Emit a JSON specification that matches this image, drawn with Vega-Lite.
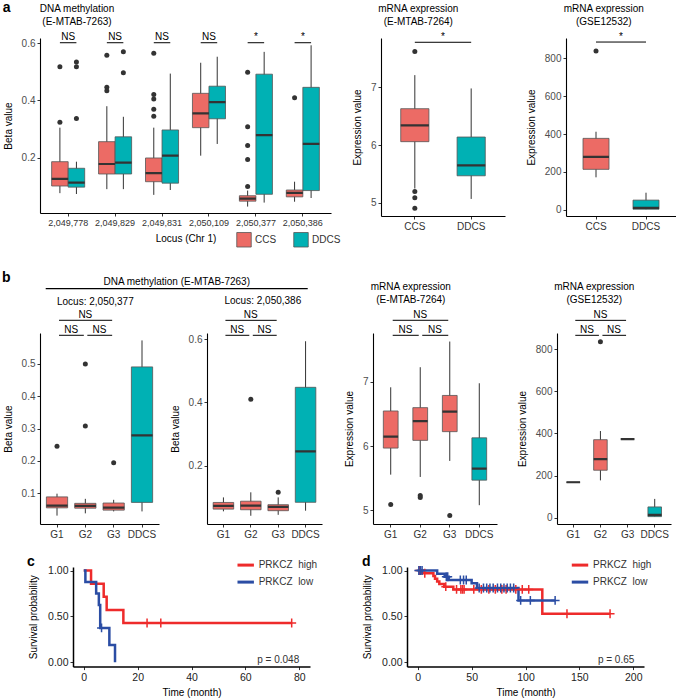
{
  "$schema": "https://vega.github.io/schema/vega-lite/v6.json",
  "padding": {"left": 2, "top": 0, "right": 0, "bottom": 0},
  "autosize": {"type": "pad"},
  "background": "white",
  "config": {
    "font": "Liberation Sans",
    "view": {"stroke": null},
    "axis": {"grid": false, "domainColor": "#000", "domainWidth": 1.1, "tickColor": "#333", "tickSize": 3, "tickWidth": 1, "labelFontSize": 10, "labelColor": "#4d4d4d", "titleFontSize": 10, "titleFontWeight": "normal", "titleColor": "#000", "labelPadding": 2},
    "title": {"fontWeight": "normal", "fontSize": 10, "color": "#000", "font": "Liberation Sans", "frame": "group"},
    "legend": {"labelFont": "Liberation Sans", "padding": 0}
  },
  "datasets": {
    "a1box": [
      {"locus": "2,049,778", "group": "CCS", "lo": 0.076, "q1": 0.101, "med": 0.126, "q3": 0.186, "hi": 0.305},
      {"locus": "2,049,778", "group": "DDCS", "lo": 0.073, "q1": 0.097, "med": 0.113, "q3": 0.163, "hi": 0.186},
      {"locus": "2,049,829", "group": "CCS", "lo": 0.09, "q1": 0.143, "med": 0.178, "q3": 0.256, "hi": 0.38},
      {"locus": "2,049,829", "group": "DDCS", "lo": 0.09, "q1": 0.143, "med": 0.183, "q3": 0.273, "hi": 0.343},
      {"locus": "2,049,831", "group": "CCS", "lo": 0.07, "q1": 0.116, "med": 0.146, "q3": 0.199, "hi": 0.305},
      {"locus": "2,049,831", "group": "DDCS", "lo": 0.087, "q1": 0.111, "med": 0.207, "q3": 0.297, "hi": 0.494},
      {"locus": "2,050,109", "group": "CCS", "lo": 0.207, "q1": 0.305, "med": 0.355, "q3": 0.425, "hi": 0.532},
      {"locus": "2,050,109", "group": "DDCS", "lo": 0.248, "q1": 0.336, "med": 0.394, "q3": 0.45, "hi": 0.553},
      {"locus": "2,050,377", "group": "CCS", "lo": 0.029, "q1": 0.048, "med": 0.057, "q3": 0.067, "hi": 0.085},
      {"locus": "2,050,377", "group": "DDCS", "lo": 0.043, "q1": 0.072, "med": 0.279, "q3": 0.492, "hi": 0.57},
      {"locus": "2,050,386", "group": "CCS", "lo": 0.046, "q1": 0.063, "med": 0.077, "q3": 0.087, "hi": 0.116},
      {"locus": "2,050,386", "group": "DDCS", "lo": 0.059, "q1": 0.085, "med": 0.248, "q3": 0.446, "hi": 0.593}
    ],
    "a1out": [
      {"locus": "2,049,778", "group": "CCS", "v": 0.324},
      {"locus": "2,049,778", "group": "CCS", "v": 0.518},
      {"locus": "2,049,778", "group": "DDCS", "v": 0.337},
      {"locus": "2,049,778", "group": "DDCS", "v": 0.518},
      {"locus": "2,049,778", "group": "DDCS", "v": 0.535},
      {"locus": "2,049,829", "group": "CCS", "v": 0.558},
      {"locus": "2,049,829", "group": "CCS", "v": 0.446},
      {"locus": "2,049,829", "group": "CCS", "v": 0.434},
      {"locus": "2,049,829", "group": "DDCS", "v": 0.57},
      {"locus": "2,049,829", "group": "DDCS", "v": 0.497},
      {"locus": "2,049,831", "group": "CCS", "v": 0.565},
      {"locus": "2,049,831", "group": "CCS", "v": 0.421},
      {"locus": "2,049,831", "group": "CCS", "v": 0.405},
      {"locus": "2,049,831", "group": "CCS", "v": 0.369},
      {"locus": "2,049,831", "group": "CCS", "v": 0.345},
      {"locus": "2,050,377", "group": "CCS", "v": 0.499},
      {"locus": "2,050,377", "group": "CCS", "v": 0.308},
      {"locus": "2,050,377", "group": "CCS", "v": 0.243},
      {"locus": "2,050,377", "group": "CCS", "v": 0.194},
      {"locus": "2,050,377", "group": "CCS", "v": 0.099},
      {"locus": "2,050,386", "group": "CCS", "v": 0.41}
    ],
    "a1sig": [
      {"locus": "2,049,778", "y": 0.602, "label": "NS"},
      {"locus": "2,049,829", "y": 0.602, "label": "NS"},
      {"locus": "2,049,831", "y": 0.602, "label": "NS"},
      {"locus": "2,050,109", "y": 0.602, "label": "NS"},
      {"locus": "2,050,377", "y": 0.602, "label": "*"},
      {"locus": "2,050,386", "y": 0.602, "label": "*"}
    ],
    "a2box": [
      {"cat": "CCS", "group": "CCS", "lo": 5.25, "q1": 6.06, "med": 6.34, "q3": 6.63, "hi": 7.21},
      {"cat": "DDCS", "group": "DDCS", "lo": 5.07, "q1": 5.47, "med": 5.65, "q3": 6.14, "hi": 6.98}
    ],
    "a2out": [
      {"cat": "CCS", "v": 7.62}, {"cat": "CCS", "v": 5.2}, {"cat": "CCS", "v": 5.09}, {"cat": "CCS", "v": 4.91}
    ],
    "a2sig": [{"from": "CCS", "to": "DDCS", "y": 7.778, "label": "*"}],
    "a3box": [
      {"cat": "CCS", "group": "CCS", "lo": 172, "q1": 214, "med": 280, "q3": 377, "hi": 412},
      {"cat": "DDCS", "group": "DDCS", "lo": 4, "q1": 4, "med": 11, "q3": 52, "hi": 91}
    ],
    "a3out": [{"cat": "CCS", "v": 837}],
    "a3sig": [{"from": "CCS", "to": "DDCS", "y": 884, "label": "*"}],
    "b1box": [
      {"cat": "G1", "group": "CCS", "lo": 0.03, "q1": 0.054, "med": 0.061, "q3": 0.088, "hi": 0.098},
      {"cat": "G2", "group": "CCS", "lo": 0.037, "q1": 0.053, "med": 0.06, "q3": 0.068, "hi": 0.082},
      {"cat": "G3", "group": "CCS", "lo": 0.043, "q1": 0.047, "med": 0.055, "q3": 0.069, "hi": 0.079},
      {"cat": "DDCS", "group": "DDCS", "lo": 0.043, "q1": 0.071, "med": 0.279, "q3": 0.491, "hi": 0.573}
    ],
    "b1out": [{"cat": "G1", "v": 0.245}, {"cat": "G2", "v": 0.5}, {"cat": "G2", "v": 0.308}, {"cat": "G3", "v": 0.194}],
    "b1sig": [
      {"from": "G1", "to": "G2", "mid": "G2", "y": 0.5889, "label": "NS", "kind": "pair"},
      {"from": "G2", "to": "G3", "mid": "G3", "y": 0.5889, "label": "NS", "kind": "pair"},
      {"from": "G1", "to": "G3", "mid": "G2", "y": 0.6354, "label": "NS", "kind": "span"}
    ],
    "b2box": [
      {"cat": "G1", "group": "CCS", "lo": 0.056, "q1": 0.063, "med": 0.073, "q3": 0.084, "hi": 0.1},
      {"cat": "G2", "group": "CCS", "lo": 0.042, "q1": 0.061, "med": 0.074, "q3": 0.088, "hi": 0.116},
      {"cat": "G3", "group": "CCS", "lo": 0.045, "q1": 0.058, "med": 0.07, "q3": 0.077, "hi": 0.1},
      {"cat": "DDCS", "group": "DDCS", "lo": 0.058, "q1": 0.0845, "med": 0.245, "q3": 0.4475, "hi": 0.593}
    ],
    "b2out": [{"cat": "G2", "v": 0.41}, {"cat": "G3", "v": 0.116}],
    "b2sig": [
      {"from": "G1", "to": "G2", "mid": "G2", "y": 0.6117, "label": "NS", "kind": "pair"},
      {"from": "G2", "to": "G3", "mid": "G3", "y": 0.6117, "label": "NS", "kind": "pair"},
      {"from": "G1", "to": "G3", "mid": "G2", "y": 0.659, "label": "NS", "kind": "span"}
    ],
    "b3box": [
      {"cat": "G1", "group": "CCS", "lo": 5.556, "q1": 5.97, "med": 6.148, "q3": 6.548, "hi": 6.917},
      {"cat": "G2", "group": "CCS", "lo": 5.52, "q1": 6.09, "med": 6.39, "q3": 6.6, "hi": 7.23},
      {"cat": "G3", "group": "CCS", "lo": 5.77, "q1": 6.226, "med": 6.537, "q3": 6.79, "hi": 7.63},
      {"cat": "DDCS", "group": "DDCS", "lo": 5.08, "q1": 5.47, "med": 5.65, "q3": 6.13, "hi": 6.98}
    ],
    "b3out": [{"cat": "G1", "v": 5.09}, {"cat": "G2", "v": 5.23}, {"cat": "G2", "v": 5.2}, {"cat": "G3", "v": 4.92}],
    "b3sig": [
      {"from": "G1", "to": "G2", "mid": "G2", "y": 7.727, "label": "NS", "kind": "pair"},
      {"from": "G2", "to": "G3", "mid": "G3", "y": 7.727, "label": "NS", "kind": "pair"},
      {"from": "G1", "to": "G3", "mid": "G2", "y": 7.961, "label": "NS", "kind": "span"}
    ],
    "b4box": [
      {"cat": "G1", "group": "CCS", "lo": 168, "q1": 168, "med": 168, "q3": 168, "hi": 168},
      {"cat": "G2", "group": "CCS", "lo": 177, "q1": 225, "med": 278, "q3": 370, "hi": 411},
      {"cat": "G3", "group": "CCS", "lo": 373, "q1": 373, "med": 373, "q3": 373, "hi": 373},
      {"cat": "DDCS", "group": "DDCS", "lo": 5, "q1": 5, "med": 13, "q3": 51, "hi": 89}
    ],
    "b4out": [{"cat": "G2", "v": 834}],
    "b4sig": [
      {"from": "G1", "to": "G2", "mid": "G2", "y": 865, "label": "NS", "kind": "pair"},
      {"from": "G2", "to": "G3", "mid": "G3", "y": 865, "label": "NS", "kind": "pair"},
      {"from": "G1", "to": "G3", "mid": "G2", "y": 936, "label": "NS", "kind": "span"}
    ],
    "ckm": [
      {"grp": "PRKCZ\u00a0\u00a0high", "t": 0, "s": 1},
      {"grp": "PRKCZ\u00a0\u00a0high", "t": 2.7, "s": 0.857},
      {"grp": "PRKCZ\u00a0\u00a0high", "t": 7.4, "s": 0.714},
      {"grp": "PRKCZ\u00a0\u00a0high", "t": 8.5, "s": 0.571},
      {"grp": "PRKCZ\u00a0\u00a0high", "t": 14.7, "s": 0.429},
      {"grp": "PRKCZ\u00a0\u00a0high", "t": 77.2, "s": 0.429},
      {"grp": "PRKCZ\u00a0\u00a0low", "t": 0, "s": 1},
      {"grp": "PRKCZ\u00a0\u00a0low", "t": 0.6, "s": 0.875},
      {"grp": "PRKCZ\u00a0\u00a0low", "t": 4.6, "s": 0.75},
      {"grp": "PRKCZ\u00a0\u00a0low", "t": 5.6, "s": 0.625},
      {"grp": "PRKCZ\u00a0\u00a0low", "t": 6.1, "s": 0.375},
      {"grp": "PRKCZ\u00a0\u00a0low", "t": 9.5, "s": 0.1875},
      {"grp": "PRKCZ\u00a0\u00a0low", "t": 11.6, "s": 0}
    ],
    "ccens": [
      {"grp": "PRKCZ\u00a0\u00a0high", "t": 23.5, "s": 0.429},
      {"grp": "PRKCZ\u00a0\u00a0high", "t": 28.6, "s": 0.429},
      {"grp": "PRKCZ\u00a0\u00a0high", "t": 77.2, "s": 0.429},
      {"grp": "PRKCZ\u00a0\u00a0low", "t": 6.6, "s": 0.375}
    ],
    "dkm": [
      {"grp": "PRKCZ\u00a0\u00a0high", "t": 0, "s": 1},
      {"grp": "PRKCZ\u00a0\u00a0high", "t": 4, "s": 0.97},
      {"grp": "PRKCZ\u00a0\u00a0high", "t": 14.5, "s": 0.94},
      {"grp": "PRKCZ\u00a0\u00a0high", "t": 16, "s": 0.91},
      {"grp": "PRKCZ\u00a0\u00a0high", "t": 18, "s": 0.88},
      {"grp": "PRKCZ\u00a0\u00a0high", "t": 20, "s": 0.855},
      {"grp": "PRKCZ\u00a0\u00a0high", "t": 24.5, "s": 0.825},
      {"grp": "PRKCZ\u00a0\u00a0high", "t": 33, "s": 0.795},
      {"grp": "PRKCZ\u00a0\u00a0high", "t": 115.6, "s": 0.53},
      {"grp": "PRKCZ\u00a0\u00a0high", "t": 178.5, "s": 0.53},
      {"grp": "PRKCZ\u00a0\u00a0low", "t": 0, "s": 1},
      {"grp": "PRKCZ\u00a0\u00a0low", "t": 18, "s": 0.966},
      {"grp": "PRKCZ\u00a0\u00a0low", "t": 25, "s": 0.932},
      {"grp": "PRKCZ\u00a0\u00a0low", "t": 28.7, "s": 0.898},
      {"grp": "PRKCZ\u00a0\u00a0low", "t": 50, "s": 0.862},
      {"grp": "PRKCZ\u00a0\u00a0low", "t": 55, "s": 0.81},
      {"grp": "PRKCZ\u00a0\u00a0low", "t": 93.5, "s": 0.675},
      {"grp": "PRKCZ\u00a0\u00a0low", "t": 127.5, "s": 0.675}
    ],
    "dcens": [
      {"grp": "PRKCZ\u00a0\u00a0high", "t": 1.5, "s": 1},
      {"grp": "PRKCZ\u00a0\u00a0high", "t": 6.5, "s": 0.97},
      {"grp": "PRKCZ\u00a0\u00a0high", "t": 26, "s": 0.825},
      {"grp": "PRKCZ\u00a0\u00a0high", "t": 36, "s": 0.795},
      {"grp": "PRKCZ\u00a0\u00a0high", "t": 40, "s": 0.795},
      {"grp": "PRKCZ\u00a0\u00a0high", "t": 41.5, "s": 0.795},
      {"grp": "PRKCZ\u00a0\u00a0high", "t": 43, "s": 0.795},
      {"grp": "PRKCZ\u00a0\u00a0high", "t": 52, "s": 0.795},
      {"grp": "PRKCZ\u00a0\u00a0high", "t": 59, "s": 0.795},
      {"grp": "PRKCZ\u00a0\u00a0high", "t": 66, "s": 0.795},
      {"grp": "PRKCZ\u00a0\u00a0high", "t": 72, "s": 0.795},
      {"grp": "PRKCZ\u00a0\u00a0high", "t": 78, "s": 0.795},
      {"grp": "PRKCZ\u00a0\u00a0high", "t": 82, "s": 0.795},
      {"grp": "PRKCZ\u00a0\u00a0high", "t": 91, "s": 0.795},
      {"grp": "PRKCZ\u00a0\u00a0high", "t": 97, "s": 0.795},
      {"grp": "PRKCZ\u00a0\u00a0high", "t": 103, "s": 0.795},
      {"grp": "PRKCZ\u00a0\u00a0high", "t": 138.5, "s": 0.53},
      {"grp": "PRKCZ\u00a0\u00a0high", "t": 178.5, "s": 0.53},
      {"grp": "PRKCZ\u00a0\u00a0low", "t": 1, "s": 1},
      {"grp": "PRKCZ\u00a0\u00a0low", "t": 2.5, "s": 1},
      {"grp": "PRKCZ\u00a0\u00a0low", "t": 4, "s": 1},
      {"grp": "PRKCZ\u00a0\u00a0low", "t": 26.5, "s": 0.932},
      {"grp": "PRKCZ\u00a0\u00a0low", "t": 27.8, "s": 0.932},
      {"grp": "PRKCZ\u00a0\u00a0low", "t": 39.5, "s": 0.898},
      {"grp": "PRKCZ\u00a0\u00a0low", "t": 42.5, "s": 0.898},
      {"grp": "PRKCZ\u00a0\u00a0low", "t": 45, "s": 0.898},
      {"grp": "PRKCZ\u00a0\u00a0low", "t": 57, "s": 0.81},
      {"grp": "PRKCZ\u00a0\u00a0low", "t": 61, "s": 0.81},
      {"grp": "PRKCZ\u00a0\u00a0low", "t": 64, "s": 0.81},
      {"grp": "PRKCZ\u00a0\u00a0low", "t": 67, "s": 0.81},
      {"grp": "PRKCZ\u00a0\u00a0low", "t": 70, "s": 0.81},
      {"grp": "PRKCZ\u00a0\u00a0low", "t": 74, "s": 0.81},
      {"grp": "PRKCZ\u00a0\u00a0low", "t": 77, "s": 0.81},
      {"grp": "PRKCZ\u00a0\u00a0low", "t": 80, "s": 0.81},
      {"grp": "PRKCZ\u00a0\u00a0low", "t": 83, "s": 0.81},
      {"grp": "PRKCZ\u00a0\u00a0low", "t": 86, "s": 0.81},
      {"grp": "PRKCZ\u00a0\u00a0low", "t": 89, "s": 0.81},
      {"grp": "PRKCZ\u00a0\u00a0low", "t": 95.5, "s": 0.675},
      {"grp": "PRKCZ\u00a0\u00a0low", "t": 104.5, "s": 0.675},
      {"grp": "PRKCZ\u00a0\u00a0low", "t": 127.5, "s": 0.675}
    ]
  },
  "spacing": 0,
  "resolve": {"scale": {"color": "independent"}},
  "vconcat": [
    {
      "title": {"text": "a", "anchor": "start", "dx": -37.3, "dy": 11, "offset": 0, "fontSize": 14, "fontWeight": "bold"},
      "bounds": "flush",
      "spacing": 0,
      "resolve": {"scale": {"color": "independent"}},
      "hconcat": [
        {
          "width": 291, "height": 175,
          "title": {"text": ["DNA methylation", "(E-MTAB-7263)"], "anchor": "start", "align": "center", "dx": 37, "offset": 5, "lineHeight": 13},
          "layer": [
            {"data": {"name": "a1box"}, "mark": {"type": "rule", "color": "#333", "strokeWidth": 1},
             "encoding": {
               "x": {"field": "locus", "type": "nominal", "scale": {"domain": ["2,049,778", "2,049,829", "2,049,831", "2,050,109", "2,050,377", "2,050,386"], "paddingInner": 0, "paddingOuter": 0.1}, "axis": {"title": "Locus (Chr 1)", "labelAngle": 0, "labelFontSize": 9, "labelColor": "#333", "titlePadding": 6}},
               "xOffset": {"field": "group", "type": "nominal", "scale": {"domain": ["CCS", "DDCS"], "paddingInner": 0, "paddingOuter": 0.42}},
               "y": {"field": "lo", "type": "quantitative", "scale": {"domain": [0.0066, 0.6185], "nice": false, "zero": false}, "axis": {"title": "Beta value", "values": [0.2, 0.4, 0.6], "format": ".1f", "titlePadding": 8}},
               "y2": {"field": "hi"}
             }},
            {"data": {"name": "a1box"}, "mark": {"type": "bar", "stroke": "#555", "strokeWidth": 0.8},
             "encoding": {
               "x": {"field": "locus", "type": "nominal", "scale": {"domain": ["2,049,778", "2,049,829", "2,049,831", "2,050,109", "2,050,377", "2,050,386"], "paddingInner": 0, "paddingOuter": 0.1}},
               "xOffset": {"field": "group", "type": "nominal", "scale": {"domain": ["CCS", "DDCS"], "paddingInner": 0, "paddingOuter": 0.42}},
               "y": {"field": "q1", "type": "quantitative", "scale": {"domain": [0.0066, 0.6185], "nice": false, "zero": false}},
               "y2": {"field": "q3"},
               "color": {"field": "group", "type": "nominal", "scale": {"domain": ["CCS", "DDCS"], "range": ["#EC6B65", "#00B1B4"]},
                 "legend": {"orient": "none", "legendX": 196, "legendY": 193.7, "direction": "horizontal", "title": null, "symbolType": "square", "symbolSize": 210, "symbolStrokeColor": "#555", "symbolStrokeWidth": 0.8, "symbolOpacity": 1, "labelFontSize": 10, "labelColor": "#333", "columnPadding": 15, "labelOffset": 3}}
             }},
            {"data": {"name": "a1box"}, "mark": {"type": "bar", "fillOpacity": 0, "stroke": "#333", "strokeWidth": 2.2},
             "encoding": {
               "x": {"field": "locus", "type": "nominal", "scale": {"domain": ["2,049,778", "2,049,829", "2,049,831", "2,050,109", "2,050,377", "2,050,386"], "paddingInner": 0, "paddingOuter": 0.1}},
               "xOffset": {"field": "group", "type": "nominal", "scale": {"domain": ["CCS", "DDCS"], "paddingInner": 0, "paddingOuter": 0.42}},
               "y": {"field": "med", "type": "quantitative", "scale": {"domain": [0.0066, 0.6185], "nice": false, "zero": false}},
               "y2": {"field": "med"}
             }},
            {"data": {"name": "a1out"}, "mark": {"type": "point", "filled": true, "color": "#333", "size": 25, "opacity": 1},
             "encoding": {
               "x": {"field": "locus", "type": "nominal", "scale": {"domain": ["2,049,778", "2,049,829", "2,049,831", "2,050,109", "2,050,377", "2,050,386"], "paddingInner": 0, "paddingOuter": 0.1}},
               "xOffset": {"field": "group", "type": "nominal", "scale": {"domain": ["CCS", "DDCS"], "paddingInner": 0, "paddingOuter": 0.42}},
               "y": {"field": "v", "type": "quantitative", "scale": {"domain": [0.0066, 0.6185], "nice": false, "zero": false}}
             }},
            {"data": {"name": "a1sig"}, "mark": {"type": "rule", "color": "#000", "strokeWidth": 1, "xOffset": -8.25, "x2Offset": 8.25},
             "encoding": {
               "x": {"field": "locus", "type": "nominal", "bandPosition": 0.5, "scale": {"domain": ["2,049,778", "2,049,829", "2,049,831", "2,050,109", "2,050,377", "2,050,386"], "paddingInner": 0, "paddingOuter": 0.1}},
               "x2": {"field": "locus", "bandPosition": 0.5},
               "y": {"field": "y", "type": "quantitative", "scale": {"domain": [0.0066, 0.6185], "nice": false, "zero": false}}
             }},
            {"data": {"name": "a1sig"}, "mark": {"type": "text", "baseline": "alphabetic", "dy": -2.5, "fontSize": 10, "color": "#000"},
             "encoding": {
               "x": {"field": "locus", "type": "nominal", "scale": {"domain": ["2,049,778", "2,049,829", "2,049,831", "2,050,109", "2,050,377", "2,050,386"], "paddingInner": 0, "paddingOuter": 0.1}},
               "y": {"field": "y", "type": "quantitative", "scale": {"domain": [0.0066, 0.6185], "nice": false, "zero": false}},
               "text": {"field": "label"}
             }}
          ]
        },
        {"width": 50, "height": 1, "data": {"values": []}, "mark": "point"},
        {
          "width": 124, "height": 178,
          "title": {"text": ["mRNA expression", "(E-MTAB-7264)"], "anchor": "start", "align": "center", "dx": 37.3, "offset": 5, "lineHeight": 13},
          "layer": [
            {"data": {"name": "a2box"}, "mark": {"type": "rule", "color": "#333", "strokeWidth": 1},
             "encoding": {
               "x": {"field": "cat", "type": "nominal", "scale": {"domain": ["CCS", "DDCS"], "paddingInner": 0, "paddingOuter": 0.1}, "axis": {"title": null, "labelAngle": 0, "labelColor": "#333"}},
               "y": {"field": "lo", "type": "quantitative", "scale": {"domain": [4.775, 7.852], "nice": false, "zero": false}, "axis": {"title": "Expression value", "values": [5, 6, 7], "format": "d", "titlePadding": 8}},
               "y2": {"field": "hi"}
             }},
            {"data": {"name": "a2box"}, "mark": {"type": "bar", "stroke": "#555", "strokeWidth": 0.8, "width": {"band": 0.5}},
             "encoding": {
               "x": {"field": "cat", "type": "nominal", "scale": {"domain": ["CCS", "DDCS"], "paddingInner": 0, "paddingOuter": 0.1}},
               "y": {"field": "q1", "type": "quantitative", "scale": {"domain": [4.775, 7.852], "nice": false, "zero": false}},
               "y2": {"field": "q3"},
               "color": {"field": "group", "type": "nominal", "scale": {"domain": ["CCS", "DDCS"], "range": ["#EC6B65", "#00B1B4"]}, "legend": null}
             }},
            {"data": {"name": "a2box"}, "mark": {"type": "bar", "fillOpacity": 0, "stroke": "#333", "strokeWidth": 2.2, "width": {"band": 0.5}},
             "encoding": {
               "x": {"field": "cat", "type": "nominal", "scale": {"domain": ["CCS", "DDCS"], "paddingInner": 0, "paddingOuter": 0.1}},
               "y": {"field": "med", "type": "quantitative", "scale": {"domain": [4.775, 7.852], "nice": false, "zero": false}},
               "y2": {"field": "med"}
             }},
            {"data": {"name": "a2out"}, "mark": {"type": "point", "filled": true, "color": "#333", "size": 25, "opacity": 1},
             "encoding": {
               "x": {"field": "cat", "type": "nominal", "scale": {"domain": ["CCS", "DDCS"], "paddingInner": 0, "paddingOuter": 0.1}},
               "y": {"field": "v", "type": "quantitative", "scale": {"domain": [4.775, 7.852], "nice": false, "zero": false}}
             }},
            {"data": {"name": "a2sig"}, "mark": {"type": "rule", "color": "#000", "strokeWidth": 1},
             "encoding": {
               "x": {"field": "from", "type": "nominal", "bandPosition": 0.5, "scale": {"domain": ["CCS", "DDCS"], "paddingInner": 0, "paddingOuter": 0.1}},
               "x2": {"field": "to", "bandPosition": 0.5},
               "y": {"field": "y", "type": "quantitative", "scale": {"domain": [4.775, 7.852], "nice": false, "zero": false}}
             }},
            {"data": {"name": "a2sig"}, "mark": {"type": "text", "baseline": "alphabetic", "dy": -2.5, "fontSize": 10, "color": "#000"},
             "encoding": {
               "x": {"field": "from", "type": "nominal", "bandPosition": 1, "scale": {"domain": ["CCS", "DDCS"], "paddingInner": 0, "paddingOuter": 0.1}},
               "y": {"field": "y", "type": "quantitative", "scale": {"domain": [4.775, 7.852], "nice": false, "zero": false}},
               "text": {"field": "label"}
             }}
          ]
        },
        {"width": 61, "height": 1, "data": {"values": []}, "mark": "point"},
        {
          "width": 110, "height": 178,
          "title": {"text": ["mRNA expression", "(GSE12532)"], "anchor": "start", "align": "center", "dx": 37.8, "offset": 5, "lineHeight": 13},
          "layer": [
            {"data": {"name": "a3box"}, "mark": {"type": "rule", "color": "#333", "strokeWidth": 1},
             "encoding": {
               "x": {"field": "cat", "type": "nominal", "scale": {"domain": ["CCS", "DDCS"], "paddingInner": 0, "paddingOuter": 0.1}, "axis": {"title": null, "labelAngle": 0, "labelColor": "#333"}},
               "y": {"field": "lo", "type": "quantitative", "scale": {"domain": [-31.6, 905.3], "nice": false, "zero": false}, "axis": {"title": "Expression value", "values": [0, 200, 400, 600, 800], "titlePadding": 8}},
               "y2": {"field": "hi"}
             }},
            {"data": {"name": "a3box"}, "mark": {"type": "bar", "stroke": "#555", "strokeWidth": 0.8, "width": {"band": 0.52}},
             "encoding": {
               "x": {"field": "cat", "type": "nominal", "scale": {"domain": ["CCS", "DDCS"], "paddingInner": 0, "paddingOuter": 0.1}},
               "y": {"field": "q1", "type": "quantitative", "scale": {"domain": [-31.6, 905.3], "nice": false, "zero": false}},
               "y2": {"field": "q3"},
               "color": {"field": "group", "type": "nominal", "scale": {"domain": ["CCS", "DDCS"], "range": ["#EC6B65", "#00B1B4"]}, "legend": null}
             }},
            {"data": {"name": "a3box"}, "mark": {"type": "bar", "fillOpacity": 0, "stroke": "#333", "strokeWidth": 2.2, "width": {"band": 0.52}},
             "encoding": {
               "x": {"field": "cat", "type": "nominal", "scale": {"domain": ["CCS", "DDCS"], "paddingInner": 0, "paddingOuter": 0.1}},
               "y": {"field": "med", "type": "quantitative", "scale": {"domain": [-31.6, 905.3], "nice": false, "zero": false}},
               "y2": {"field": "med"}
             }},
            {"data": {"name": "a3out"}, "mark": {"type": "point", "filled": true, "color": "#333", "size": 25, "opacity": 1},
             "encoding": {
               "x": {"field": "cat", "type": "nominal", "scale": {"domain": ["CCS", "DDCS"], "paddingInner": 0, "paddingOuter": 0.1}},
               "y": {"field": "v", "type": "quantitative", "scale": {"domain": [-31.6, 905.3], "nice": false, "zero": false}}
             }},
            {"data": {"name": "a3sig"}, "mark": {"type": "rule", "color": "#000", "strokeWidth": 1},
             "encoding": {
               "x": {"field": "from", "type": "nominal", "bandPosition": 0.5, "scale": {"domain": ["CCS", "DDCS"], "paddingInner": 0, "paddingOuter": 0.1}},
               "x2": {"field": "to", "bandPosition": 0.5},
               "y": {"field": "y", "type": "quantitative", "scale": {"domain": [-31.6, 905.3], "nice": false, "zero": false}}
             }},
            {"data": {"name": "a3sig"}, "mark": {"type": "text", "baseline": "alphabetic", "dy": -2.5, "fontSize": 10, "color": "#000"},
             "encoding": {
               "x": {"field": "from", "type": "nominal", "bandPosition": 1, "scale": {"domain": ["CCS", "DDCS"], "paddingInner": 0, "paddingOuter": 0.1}},
               "y": {"field": "y", "type": "quantitative", "scale": {"domain": [-31.6, 905.3], "nice": false, "zero": false}},
               "text": {"field": "label"}
             }}
          ]
        }
      ]
    },
    {"width": 1, "height": 20.5, "data": {"values": []}, "mark": "point"},
    {
      "title": {"text": "b", "anchor": "start", "dx": -38, "dy": 8, "offset": 0, "fontSize": 14, "fontWeight": "bold"},
      "bounds": "flush",
      "spacing": 0,
      "resolve": {"scale": {"color": "independent"}},
      "hconcat": [
        {
          "width": 119, "height": 191,
          "title": {"text": "Locus: 2,050,377", "anchor": "start", "dx": 17, "dy": 30, "offset": 0},
          "resolve": {"scale": {"x": "independent"}},
          "layer": [
            {
              "layer": [
                {"data": {"name": "b1box"}, "mark": {"type": "rule", "color": "#333", "strokeWidth": 1},
                 "encoding": {
                   "x": {"field": "cat", "type": "nominal", "scale": {"domain": ["G1", "G2", "G3", "DDCS"], "paddingInner": 0, "paddingOuter": 0.1}, "axis": {"title": null, "labelAngle": 0, "labelColor": "#333"}},
                   "y": {"field": "lo", "type": "quantitative", "scale": {"domain": [0.004, 0.596], "nice": false, "zero": false}, "axis": {"title": "Beta value", "values": [0.1, 0.2, 0.3, 0.4, 0.5], "format": ".1f", "titlePadding": 8}},
                   "y2": {"field": "hi"}
                 }},
                {"data": {"name": "b1box"}, "mark": {"type": "bar", "stroke": "#555", "strokeWidth": 0.8, "width": {"band": 0.75}},
                 "encoding": {
                   "x": {"field": "cat", "type": "nominal", "scale": {"domain": ["G1", "G2", "G3", "DDCS"], "paddingInner": 0, "paddingOuter": 0.1}},
                   "y": {"field": "q1", "type": "quantitative", "scale": {"domain": [0.004, 0.596], "nice": false, "zero": false}},
                   "y2": {"field": "q3"},
                   "color": {"field": "group", "type": "nominal", "scale": {"domain": ["CCS", "DDCS"], "range": ["#EC6B65", "#00B1B4"]}, "legend": null}
                 }},
                {"data": {"name": "b1box"}, "mark": {"type": "bar", "fillOpacity": 0, "stroke": "#333", "strokeWidth": 2.2, "width": {"band": 0.75}},
                 "encoding": {
                   "x": {"field": "cat", "type": "nominal", "scale": {"domain": ["G1", "G2", "G3", "DDCS"], "paddingInner": 0, "paddingOuter": 0.1}},
                   "y": {"field": "med", "type": "quantitative", "scale": {"domain": [0.004, 0.596], "nice": false, "zero": false}},
                   "y2": {"field": "med"}
                 }},
                {"data": {"name": "b1out"}, "mark": {"type": "point", "filled": true, "color": "#333", "size": 25, "opacity": 1},
                 "encoding": {
                   "x": {"field": "cat", "type": "nominal", "scale": {"domain": ["G1", "G2", "G3", "DDCS"], "paddingInner": 0, "paddingOuter": 0.1}},
                   "y": {"field": "v", "type": "quantitative", "scale": {"domain": [0.004, 0.596], "nice": false, "zero": false}}
                 }},
                {"data": {"name": "b1sig"}, "mark": {"type": "rule", "color": "#000", "strokeWidth": 1, "xOffset": 2, "x2Offset": -1.5},
                 "encoding": {
                   "x": {"field": "from", "type": "nominal", "bandPosition": 0.5, "scale": {"domain": ["G1", "G2", "G3", "DDCS"], "paddingInner": 0, "paddingOuter": 0.1}},
                   "x2": {"field": "to", "bandPosition": 0.5},
                   "y": {"field": "y", "type": "quantitative", "scale": {"domain": [0.004, 0.596], "nice": false, "zero": false}}
                 }},
                {"data": {"name": "b1sig"}, "transform": [{"filter": "datum.kind === 'pair'"}], "mark": {"type": "text", "baseline": "alphabetic", "dy": -2.5, "fontSize": 10, "color": "#000"},
                 "encoding": {
                   "x": {"field": "to", "type": "nominal", "bandPosition": 0, "scale": {"domain": ["G1", "G2", "G3", "DDCS"], "paddingInner": 0, "paddingOuter": 0.1}},
                   "y": {"field": "y", "type": "quantitative", "scale": {"domain": [0.004, 0.596], "nice": false, "zero": false}},
                   "text": {"field": "label"}
                 }},
                {"data": {"name": "b1sig"}, "transform": [{"filter": "datum.kind === 'span'"}], "mark": {"type": "text", "baseline": "alphabetic", "dy": -2.5, "fontSize": 10, "color": "#000"},
                 "encoding": {
                   "x": {"field": "mid", "type": "nominal", "bandPosition": 0.5, "scale": {"domain": ["G1", "G2", "G3", "DDCS"], "paddingInner": 0, "paddingOuter": 0.1}},
                   "y": {"field": "y", "type": "quantitative", "scale": {"domain": [0.004, 0.596], "nice": false, "zero": false}},
                   "text": {"field": "label"}
                 }}
              ]
            },
            {
              "data": {"values": [{"label": "DNA methylation (E-MTAB-7263)", "start": 0, "end": 1, "mid": 0.5, "y": 0.7333}]},
              "layer": [
                {"mark": {"type": "rule", "color": "#000", "strokeWidth": 1.3},
                 "encoding": {
                   "x": {"field": "start", "type": "quantitative", "scale": {"domain": [-0.021756, 0.432397], "nice": false, "zero": false}, "axis": null},
                   "x2": {"field": "end"},
                   "y": {"field": "y", "type": "quantitative", "scale": {"domain": [0.004, 0.596], "nice": false, "zero": false}}
                 }},
                {"mark": {"type": "text", "baseline": "alphabetic", "dy": -4, "fontSize": 10, "color": "#000"},
                 "encoding": {
                   "x": {"field": "mid", "type": "quantitative", "scale": {"domain": [-0.021756, 0.432397], "nice": false, "zero": false}, "axis": null},
                   "y": {"field": "y", "type": "quantitative", "scale": {"domain": [0.004, 0.596], "nice": false, "zero": false}},
                   "text": {"field": "label"}
                 }}
              ]
            }
          ]
        },
        {"width": 48, "height": 1, "data": {"values": []}, "mark": "point"},
        {
          "width": 115, "height": 191,
          "title": {"text": "Locus: 2,050,386", "anchor": "start", "dx": 17.5, "offset": 4},
          "layer": [
            {"data": {"name": "b2box"}, "mark": {"type": "rule", "color": "#333", "strokeWidth": 1},
             "encoding": {
               "x": {"field": "cat", "type": "nominal", "scale": {"domain": ["G1", "G2", "G3", "DDCS"], "paddingInner": 0, "paddingOuter": 0.1}, "axis": {"title": null, "labelAngle": 0, "labelColor": "#333"}},
               "y": {"field": "lo", "type": "quantitative", "scale": {"domain": [0.016, 0.619], "nice": false, "zero": false}, "axis": {"title": "Beta value", "values": [0.2, 0.4, 0.6], "format": ".1f", "titlePadding": 8}},
               "y2": {"field": "hi"}
             }},
            {"data": {"name": "b2box"}, "mark": {"type": "bar", "stroke": "#555", "strokeWidth": 0.8, "width": {"band": 0.75}},
             "encoding": {
               "x": {"field": "cat", "type": "nominal", "scale": {"domain": ["G1", "G2", "G3", "DDCS"], "paddingInner": 0, "paddingOuter": 0.1}},
               "y": {"field": "q1", "type": "quantitative", "scale": {"domain": [0.016, 0.619], "nice": false, "zero": false}},
               "y2": {"field": "q3"},
               "color": {"field": "group", "type": "nominal", "scale": {"domain": ["CCS", "DDCS"], "range": ["#EC6B65", "#00B1B4"]}, "legend": null}
             }},
            {"data": {"name": "b2box"}, "mark": {"type": "bar", "fillOpacity": 0, "stroke": "#333", "strokeWidth": 2.2, "width": {"band": 0.75}},
             "encoding": {
               "x": {"field": "cat", "type": "nominal", "scale": {"domain": ["G1", "G2", "G3", "DDCS"], "paddingInner": 0, "paddingOuter": 0.1}},
               "y": {"field": "med", "type": "quantitative", "scale": {"domain": [0.016, 0.619], "nice": false, "zero": false}},
               "y2": {"field": "med"}
             }},
            {"data": {"name": "b2out"}, "mark": {"type": "point", "filled": true, "color": "#333", "size": 25, "opacity": 1},
             "encoding": {
               "x": {"field": "cat", "type": "nominal", "scale": {"domain": ["G1", "G2", "G3", "DDCS"], "paddingInner": 0, "paddingOuter": 0.1}},
               "y": {"field": "v", "type": "quantitative", "scale": {"domain": [0.016, 0.619], "nice": false, "zero": false}}
             }},
            {"data": {"name": "b2sig"}, "mark": {"type": "rule", "color": "#000", "strokeWidth": 1, "xOffset": 2, "x2Offset": -1.5},
             "encoding": {
               "x": {"field": "from", "type": "nominal", "bandPosition": 0.5, "scale": {"domain": ["G1", "G2", "G3", "DDCS"], "paddingInner": 0, "paddingOuter": 0.1}},
               "x2": {"field": "to", "bandPosition": 0.5},
               "y": {"field": "y", "type": "quantitative", "scale": {"domain": [0.016, 0.619], "nice": false, "zero": false}}
             }},
            {"data": {"name": "b2sig"}, "transform": [{"filter": "datum.kind === 'pair'"}], "mark": {"type": "text", "baseline": "alphabetic", "dy": -2.5, "fontSize": 10, "color": "#000"},
             "encoding": {
               "x": {"field": "to", "type": "nominal", "bandPosition": 0, "scale": {"domain": ["G1", "G2", "G3", "DDCS"], "paddingInner": 0, "paddingOuter": 0.1}},
               "y": {"field": "y", "type": "quantitative", "scale": {"domain": [0.016, 0.619], "nice": false, "zero": false}},
               "text": {"field": "label"}
             }},
            {"data": {"name": "b2sig"}, "transform": [{"filter": "datum.kind === 'span'"}], "mark": {"type": "text", "baseline": "alphabetic", "dy": -2.5, "fontSize": 10, "color": "#000"},
             "encoding": {
               "x": {"field": "mid", "type": "nominal", "bandPosition": 0.5, "scale": {"domain": ["G1", "G2", "G3", "DDCS"], "paddingInner": 0, "paddingOuter": 0.1}},
               "y": {"field": "y", "type": "quantitative", "scale": {"domain": [0.016, 0.619], "nice": false, "zero": false}},
               "text": {"field": "label"}
             }}
          ]
        },
        {"width": 51, "height": 1, "data": {"values": []}, "mark": "point"},
        {
          "width": 124, "height": 191,
          "title": {"text": ["mRNA expression", "(E-MTAB-7264)"], "anchor": "start", "align": "center", "dx": 37.8, "offset": 5, "lineHeight": 13},
          "layer": [
            {"data": {"name": "b3box"}, "mark": {"type": "rule", "color": "#333", "strokeWidth": 1},
             "encoding": {
               "x": {"field": "cat", "type": "nominal", "scale": {"domain": ["G1", "G2", "G3", "DDCS"], "paddingInner": 0, "paddingOuter": 0.1}, "axis": {"title": null, "labelAngle": 0, "labelColor": "#333"}},
               "y": {"field": "lo", "type": "quantitative", "scale": {"domain": [4.787, 7.763], "nice": false, "zero": false}, "axis": {"title": "Expression value", "values": [5, 6, 7], "format": "d", "titlePadding": 8}},
               "y2": {"field": "hi"}
             }},
            {"data": {"name": "b3box"}, "mark": {"type": "bar", "stroke": "#555", "strokeWidth": 0.8, "width": {"band": 0.5}},
             "encoding": {
               "x": {"field": "cat", "type": "nominal", "scale": {"domain": ["G1", "G2", "G3", "DDCS"], "paddingInner": 0, "paddingOuter": 0.1}},
               "y": {"field": "q1", "type": "quantitative", "scale": {"domain": [4.787, 7.763], "nice": false, "zero": false}},
               "y2": {"field": "q3"},
               "color": {"field": "group", "type": "nominal", "scale": {"domain": ["CCS", "DDCS"], "range": ["#EC6B65", "#00B1B4"]}, "legend": null}
             }},
            {"data": {"name": "b3box"}, "mark": {"type": "bar", "fillOpacity": 0, "stroke": "#333", "strokeWidth": 2.2, "width": {"band": 0.5}},
             "encoding": {
               "x": {"field": "cat", "type": "nominal", "scale": {"domain": ["G1", "G2", "G3", "DDCS"], "paddingInner": 0, "paddingOuter": 0.1}},
               "y": {"field": "med", "type": "quantitative", "scale": {"domain": [4.787, 7.763], "nice": false, "zero": false}},
               "y2": {"field": "med"}
             }},
            {"data": {"name": "b3out"}, "mark": {"type": "point", "filled": true, "color": "#333", "size": 25, "opacity": 1},
             "encoding": {
               "x": {"field": "cat", "type": "nominal", "scale": {"domain": ["G1", "G2", "G3", "DDCS"], "paddingInner": 0, "paddingOuter": 0.1}},
               "y": {"field": "v", "type": "quantitative", "scale": {"domain": [4.787, 7.763], "nice": false, "zero": false}}
             }},
            {"data": {"name": "b3sig"}, "mark": {"type": "rule", "color": "#000", "strokeWidth": 1, "xOffset": 2, "x2Offset": -1.5},
             "encoding": {
               "x": {"field": "from", "type": "nominal", "bandPosition": 0.5, "scale": {"domain": ["G1", "G2", "G3", "DDCS"], "paddingInner": 0, "paddingOuter": 0.1}},
               "x2": {"field": "to", "bandPosition": 0.5},
               "y": {"field": "y", "type": "quantitative", "scale": {"domain": [4.787, 7.763], "nice": false, "zero": false}}
             }},
            {"data": {"name": "b3sig"}, "transform": [{"filter": "datum.kind === 'pair'"}], "mark": {"type": "text", "baseline": "alphabetic", "dy": -2.5, "fontSize": 10, "color": "#000"},
             "encoding": {
               "x": {"field": "to", "type": "nominal", "bandPosition": 0, "scale": {"domain": ["G1", "G2", "G3", "DDCS"], "paddingInner": 0, "paddingOuter": 0.1}},
               "y": {"field": "y", "type": "quantitative", "scale": {"domain": [4.787, 7.763], "nice": false, "zero": false}},
               "text": {"field": "label"}
             }},
            {"data": {"name": "b3sig"}, "transform": [{"filter": "datum.kind === 'span'"}], "mark": {"type": "text", "baseline": "alphabetic", "dy": -2.5, "fontSize": 10, "color": "#000"},
             "encoding": {
               "x": {"field": "mid", "type": "nominal", "bandPosition": 0.5, "scale": {"domain": ["G1", "G2", "G3", "DDCS"], "paddingInner": 0, "paddingOuter": 0.1}},
               "y": {"field": "y", "type": "quantitative", "scale": {"domain": [4.787, 7.763], "nice": false, "zero": false}},
               "text": {"field": "label"}
             }}
          ]
        },
        {"width": 60, "height": 1, "data": {"values": []}, "mark": "point"},
        {
          "width": 114, "height": 191,
          "title": {"text": ["mRNA expression", "(GSE12532)"], "anchor": "start", "align": "center", "dx": 37.3, "offset": 5, "lineHeight": 13},
          "layer": [
            {"data": {"name": "b4box"}, "mark": {"type": "rule", "color": "#333", "strokeWidth": 1},
             "encoding": {
               "x": {"field": "cat", "type": "nominal", "scale": {"domain": ["G1", "G2", "G3", "DDCS"], "paddingInner": 0, "paddingOuter": 0.1}, "axis": {"title": null, "labelAngle": 0, "labelColor": "#333"}},
               "y": {"field": "lo", "type": "quantitative", "scale": {"domain": [-30, 876], "nice": false, "zero": false}, "axis": {"title": "Expression value", "values": [0, 200, 400, 600, 800], "titlePadding": 8}},
               "y2": {"field": "hi"}
             }},
            {"data": {"name": "b4box"}, "mark": {"type": "bar", "stroke": "#555", "strokeWidth": 0.8, "width": {"band": 0.5}},
             "encoding": {
               "x": {"field": "cat", "type": "nominal", "scale": {"domain": ["G1", "G2", "G3", "DDCS"], "paddingInner": 0, "paddingOuter": 0.1}},
               "y": {"field": "q1", "type": "quantitative", "scale": {"domain": [-30, 876], "nice": false, "zero": false}},
               "y2": {"field": "q3"},
               "color": {"field": "group", "type": "nominal", "scale": {"domain": ["CCS", "DDCS"], "range": ["#EC6B65", "#00B1B4"]}, "legend": null}
             }},
            {"data": {"name": "b4box"}, "mark": {"type": "bar", "fillOpacity": 0, "stroke": "#333", "strokeWidth": 2.2, "width": {"band": 0.5}},
             "encoding": {
               "x": {"field": "cat", "type": "nominal", "scale": {"domain": ["G1", "G2", "G3", "DDCS"], "paddingInner": 0, "paddingOuter": 0.1}},
               "y": {"field": "med", "type": "quantitative", "scale": {"domain": [-30, 876], "nice": false, "zero": false}},
               "y2": {"field": "med"}
             }},
            {"data": {"name": "b4out"}, "mark": {"type": "point", "filled": true, "color": "#333", "size": 25, "opacity": 1},
             "encoding": {
               "x": {"field": "cat", "type": "nominal", "scale": {"domain": ["G1", "G2", "G3", "DDCS"], "paddingInner": 0, "paddingOuter": 0.1}},
               "y": {"field": "v", "type": "quantitative", "scale": {"domain": [-30, 876], "nice": false, "zero": false}}
             }},
            {"data": {"name": "b4sig"}, "mark": {"type": "rule", "color": "#000", "strokeWidth": 1, "xOffset": 2, "x2Offset": -1.5},
             "encoding": {
               "x": {"field": "from", "type": "nominal", "bandPosition": 0.5, "scale": {"domain": ["G1", "G2", "G3", "DDCS"], "paddingInner": 0, "paddingOuter": 0.1}},
               "x2": {"field": "to", "bandPosition": 0.5},
               "y": {"field": "y", "type": "quantitative", "scale": {"domain": [-30, 876], "nice": false, "zero": false}}
             }},
            {"data": {"name": "b4sig"}, "transform": [{"filter": "datum.kind === 'pair'"}], "mark": {"type": "text", "baseline": "alphabetic", "dy": -2.5, "fontSize": 10, "color": "#000"},
             "encoding": {
               "x": {"field": "to", "type": "nominal", "bandPosition": 0, "scale": {"domain": ["G1", "G2", "G3", "DDCS"], "paddingInner": 0, "paddingOuter": 0.1}},
               "y": {"field": "y", "type": "quantitative", "scale": {"domain": [-30, 876], "nice": false, "zero": false}},
               "text": {"field": "label"}
             }},
            {"data": {"name": "b4sig"}, "transform": [{"filter": "datum.kind === 'span'"}], "mark": {"type": "text", "baseline": "alphabetic", "dy": -2.5, "fontSize": 10, "color": "#000"},
             "encoding": {
               "x": {"field": "mid", "type": "nominal", "bandPosition": 0.5, "scale": {"domain": ["G1", "G2", "G3", "DDCS"], "paddingInner": 0, "paddingOuter": 0.1}},
               "y": {"field": "y", "type": "quantitative", "scale": {"domain": [-30, 876], "nice": false, "zero": false}},
               "text": {"field": "label"}
             }}
          ]
        }
      ]
    },
    {"width": 1, "height": 15.5, "data": {"values": []}, "mark": "point"},
    {
      "bounds": "flush",
      "spacing": 0,
      "resolve": {"scale": {"color": "independent"}},
      "hconcat": [
        {"width": 33, "height": 1, "data": {"values": []}, "mark": "point"},
        {
          "width": 237, "height": 99.6,
          "title": {"text": "c", "anchor": "start", "dx": -46, "dy": 14, "offset": 0, "fontSize": 14, "fontWeight": "bold"},
          "layer": [
            {"data": {"name": "ckm"}, "mark": {"type": "line", "interpolate": "step-after", "strokeWidth": 2.5},
             "encoding": {
               "x": {"field": "t", "type": "quantitative", "scale": {"domain": [-4, 84], "nice": false, "zero": false}, "axis": {"title": "Time (month)", "values": [0, 20, 40, 60, 80], "labelFontSize": 10.5, "labelColor": "#222", "titlePadding": 4, "domainWidth": 1.5, "labelPadding": 3}},
               "y": {"field": "s", "type": "quantitative", "scale": {"domain": [-0.047, 1.039], "nice": false, "zero": false}, "axis": {"title": "Survival probability", "values": [0, 0.25, 0.5, 0.75, 1], "format": ".2f", "labelFontSize": 10.5, "labelColor": "#222", "titlePadding": 9, "domainWidth": 1.5}},
               "color": {"field": "grp", "type": "nominal", "scale": {"domain": ["PRKCZ\u00a0\u00a0high", "PRKCZ\u00a0\u00a0low"], "range": ["#EE2B2B", "#2B4DA4"]},
                 "legend": {"orient": "none", "legendX": 162.7, "legendY": -11.9, "title": null, "symbolType": "stroke", "symbolSize": 270, "symbolStrokeWidth": 3, "labelFontSize": 10, "labelColor": "#333", "rowPadding": 1, "labelOffset": 3}}
             }},
            {"data": {"name": "ccens"}, "mark": {"type": "point", "shape": "M-1,0L1,0M0,-1L0,1", "filled": false, "size": 80, "strokeWidth": 1.5, "opacity": 1},
             "encoding": {
               "x": {"field": "t", "type": "quantitative", "scale": {"domain": [-4, 84], "nice": false, "zero": false}},
               "y": {"field": "s", "type": "quantitative", "scale": {"domain": [-0.047, 1.039], "nice": false, "zero": false}},
               "color": {"field": "grp", "type": "nominal", "scale": {"domain": ["PRKCZ\u00a0\u00a0high", "PRKCZ\u00a0\u00a0low"], "range": ["#EE2B2B", "#2B4DA4"]}}
             }},
            {"data": {"values": [{"label": "p = 0.048"}]}, "mark": {"type": "text", "align": "right", "baseline": "middle", "fontSize": 10, "color": "#333"},
             "encoding": {
               "x": {"datum": 80, "type": "quantitative", "scale": {"domain": [-4, 84], "nice": false, "zero": false}},
               "y": {"datum": 0.02, "type": "quantitative", "scale": {"domain": [-0.047, 1.039], "nice": false, "zero": false}},
               "text": {"field": "label"}
             }}
          ]
        },
        {"width": 97, "height": 1, "data": {"values": []}, "mark": "point"},
        {
          "width": 237, "height": 99.6,
          "title": {"text": "d", "anchor": "start", "dx": -45, "dy": 14, "offset": 0, "fontSize": 14, "fontWeight": "bold"},
          "layer": [
            {"data": {"name": "dkm"}, "mark": {"type": "line", "interpolate": "step-after", "strokeWidth": 2.5},
             "encoding": {
               "x": {"field": "t", "type": "quantitative", "scale": {"domain": [-10, 210], "nice": false, "zero": false}, "axis": {"title": "Time (month)", "values": [0, 50, 100, 150, 200], "labelFontSize": 10.5, "labelColor": "#222", "titlePadding": 4, "domainWidth": 1.5, "labelPadding": 3}},
               "y": {"field": "s", "type": "quantitative", "scale": {"domain": [-0.047, 1.039], "nice": false, "zero": false}, "axis": {"title": "Survival probability", "values": [0, 0.25, 0.5, 0.75, 1], "format": ".2f", "labelFontSize": 10.5, "labelColor": "#222", "titlePadding": 9, "domainWidth": 1.5}},
               "color": {"field": "grp", "type": "nominal", "scale": {"domain": ["PRKCZ\u00a0\u00a0high", "PRKCZ\u00a0\u00a0low"], "range": ["#EE2B2B", "#2B4DA4"]},
                 "legend": {"orient": "none", "legendX": 163, "legendY": -11.9, "title": null, "symbolType": "stroke", "symbolSize": 270, "symbolStrokeWidth": 3, "labelFontSize": 10, "labelColor": "#333", "rowPadding": 1, "labelOffset": 3}}
             }},
            {"data": {"name": "dcens"}, "mark": {"type": "point", "shape": "M-1,0L1,0M0,-1L0,1", "filled": false, "size": 80, "strokeWidth": 1.5, "opacity": 1},
             "encoding": {
               "x": {"field": "t", "type": "quantitative", "scale": {"domain": [-10, 210], "nice": false, "zero": false}},
               "y": {"field": "s", "type": "quantitative", "scale": {"domain": [-0.047, 1.039], "nice": false, "zero": false}},
               "color": {"field": "grp", "type": "nominal", "scale": {"domain": ["PRKCZ\u00a0\u00a0high", "PRKCZ\u00a0\u00a0low"], "range": ["#EE2B2B", "#2B4DA4"]}}
             }},
            {"data": {"values": [{"label": "p = 0.65"}]}, "mark": {"type": "text", "align": "right", "baseline": "middle", "fontSize": 10, "color": "#333"},
             "encoding": {
               "x": {"datum": 201, "type": "quantitative", "scale": {"domain": [-10, 210], "nice": false, "zero": false}},
               "y": {"datum": 0.02, "type": "quantitative", "scale": {"domain": [-0.047, 1.039], "nice": false, "zero": false}},
               "text": {"field": "label"}
             }}
          ]
        }
      ]
    }
  ]
}
